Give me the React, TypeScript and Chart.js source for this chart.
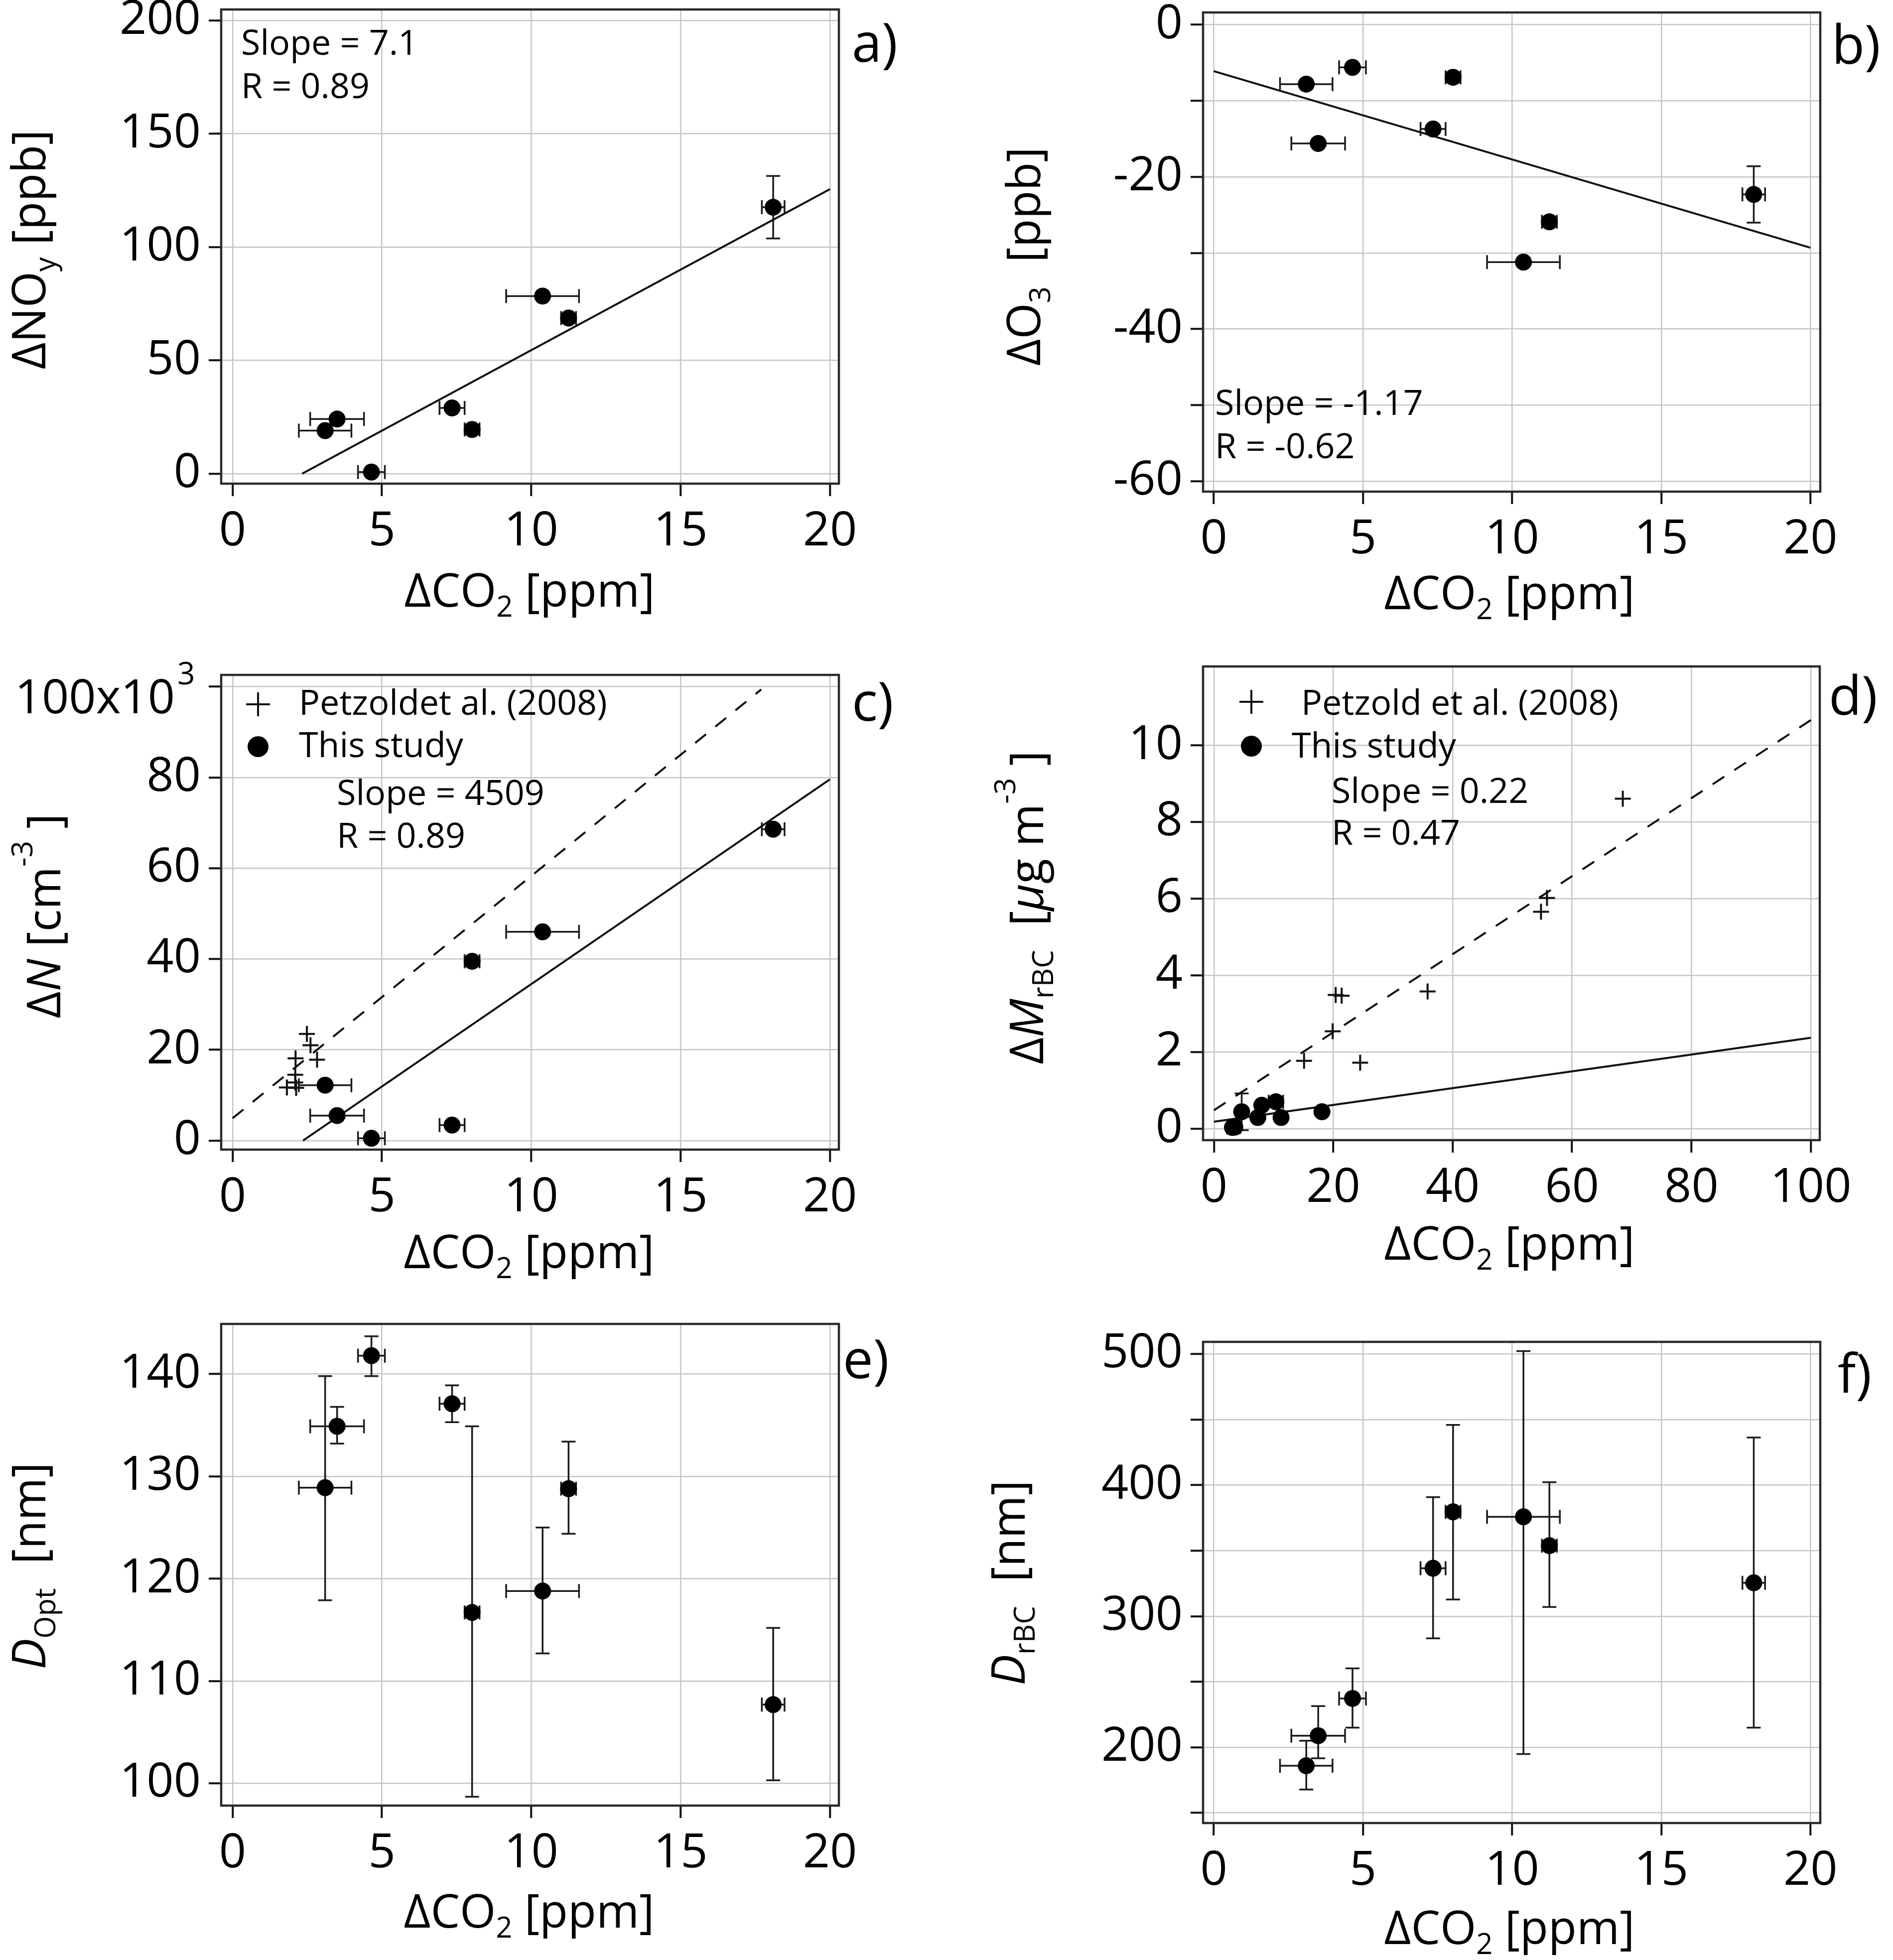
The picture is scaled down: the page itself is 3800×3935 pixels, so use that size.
import { useEffect, useRef } from "react";
import { Chart, registerables } from "chart.js";

Chart.register(...registerables);

const FONT = '"Open Sans", "DejaVu Sans", sans-serif';

// ΔCO2 of the eight plumes, shared by every panel
const co2 = [3.1, 3.5, 4.65, 7.35, 8.02, 10.38, 11.25, 18.1];
const co2Err = [0.88, 0.9, 0.45, 0.42, 0.25, 1.22, 0.25, 0.38];

// a) ΔNOy [ppb]
const noy = [19.0, 24.1, 0.7, 29.0, 19.5, 78.4, 68.7, 117.6];
const noyLo = [null, null, null, null, null, null, null, 103.8];
const noyHi = [null, null, null, null, null, null, null, 131.4];
const noyFitX = [2.33, 20];
const noyFitY = [0, 125.6];

// b) ΔO3 [ppb]
const o3 = [-7.8, -15.6, -5.6, -13.7, -6.9, -31.2, -25.9, -22.3];
const o3Lo = [null, null, null, null, null, null, null, -26.0];
const o3Hi = [null, null, null, null, null, null, null, -18.6];
const o3FitX = [0, 20];
const o3FitY = [-6.1, -29.3];

// c) ΔN [10^3 cm-3]
const nConc = [12.2, 5.5, 0.5, 3.4, 39.5, 46.0, null, 68.6];
const nFitX = [2.36, 20];
const nFitY = [0, 79.6];
const petzoldNX = [2.49, 2.61, 2.83, 2.11, 2.1, 2.1, 1.82, 2.13];
const petzoldNY = [23.5, 21.0, 17.8, 18.1, 14.5, 12.8, 11.7, 11.6];
const petzoldNFitX = [0, 17.7];
const petzoldNFitY = [4.9, 99.4];

// d) ΔM_rBC [µg m-3]
const mbc = [0.03, 0.04, 0.44, 0.29, 0.61, 0.7, 0.29, 0.44];
const mbcLo = [null, null, -0.04, null, null, null, null, null];
const mbcHi = [null, null, 0.92, null, null, null, null, null];
const mbcFitX = [0, 100];
const mbcFitY = [0.18, 2.37];
const petzoldMX = [68.5, 55.8, 54.8, 35.8, 20.4, 21.4, 19.9, 15.1, 24.5];
const petzoldMY = [8.61, 6.02, 5.66, 3.58, 3.49, 3.47, 2.54, 1.77, 1.72];
const petzoldMFitX = [0, 100];
const petzoldMFitY = [0.48, 10.66];

// e) D_Opt [nm]
const dOpt = [128.9, 134.9, 141.8, 137.1, 116.7, 118.8, 128.8, 107.7];
const dOptLo = [117.9, 133.2, 139.8, 135.3, 98.7, 112.7, 124.4, 100.3];
const dOptHi = [139.8, 136.8, 143.7, 138.9, 134.9, 125.0, 133.4, 115.2];

// f) D_rBC [nm]
const dBC = [186.0, 208.9, 237.3, 336.6, 379.6, 375.8, 353.8, 325.5];
const dBCLo = [167.8, 191.7, 215.0, 283.1, 312.7, 194.9, 307.0, 215.0];
const dBCHi = [205.1, 231.5, 260.2, 390.8, 445.9, 502.2, 402.2, 436.3];

// ticks (all drawn) and the ones that carry a label
const co2Ticks = [0, 5, 10, 15, 20];
const co2WideTicks = [0, 20, 40, 60, 80, 100];
const noyTicks = [0, 50, 100, 150, 200];
const o3Ticks = [0, -10, -20, -30, -40, -50, -60];
const o3Labels = [0, -20, -40, -60];
const nTicks = [0, 20, 40, 60, 80, 100];
const nLabels = [0, 20, 40, 60, 80];
const mbcTicks = [0, 2, 4, 6, 8, 10];
const dOptTicks = [100, 110, 120, 130, 140];
const dBCTicks = [150, 200, 250, 300, 350, 400, 450, 500];
const dBCLabels = [200, 300, 400, 500];

type Seg = { t: string; sub?: boolean; sup?: boolean; it?: boolean };
type Txt = {
  segs?: Seg[];
  mark?: "circle" | "cross";
  x: number;
  y: number;
  size: number;
  align?: "left" | "center" | "right";
  rot?: boolean;
};
type Axis = { min: number; max: number; ticks: number[]; labels: number[] };
type Panel = {
  id: string;
  left: number;
  top: number;
  w: number;
  h: number;
  area: [number, number, number, number];
  x: Axis;
  y: Axis;
  datasets: any[];
  texts: Txt[];
};

const pairs = (xs: number[], ys: (number | null)[]) => xs.map((x, i) => ({ x, y: ys[i] }));

const study = (ys: (number | null)[], lo?: (number | null)[], hi?: (number | null)[]) => ({
  label: "This study",
  data: pairs(co2, ys),
  showLine: false,
  pointStyle: "circle",
  pointRadius: 17,
  pointBackgroundColor: "#000",
  pointBorderWidth: 0,
  errX: co2Err,
  errLo: lo,
  errHi: hi,
});

const fit = (xs: number[], ys: number[], dashed = false) => ({
  label: "fit",
  data: pairs(xs, ys),
  showLine: true,
  pointRadius: 0,
  borderColor: "#111",
  borderWidth: 4,
  borderDash: dashed ? [28, 24] : [],
});

const crosses = (xs: number[], ys: number[]) => ({
  label: "Petzold et al. (2008)",
  data: pairs(xs, ys),
  showLine: false,
  pointStyle: "cross",
  pointRadius: 16,
  pointBorderColor: "#111",
  pointBorderWidth: 4,
});

const co2Title: Seg[] = [{ t: "ΔCO" }, { t: "2", sub: true }, { t: " [ppm]" }];
const TS = 93; // axis title size
const AS = 70; // annotation size
const LS = 108; // panel letter size

const panels: Panel[] = [
  {
    id: "a", left: 0, top: 0, w: 1900, h: 1300,
    area: [444, 19, 1684, 971],
    x: { min: -0.38, max: 20.3, ticks: co2Ticks, labels: co2Ticks },
    y: { min: -4.4, max: 204.9, ticks: noyTicks, labels: noyTicks },
    datasets: [study(noy, noyLo, noyHi), fit(noyFitX, noyFitY)],
    texts: [
      { segs: [{ t: "Slope = 7.1" }], x: 484, y: 110, size: AS },
      { segs: [{ t: "R = 0.89" }], x: 484, y: 197, size: AS },
      { segs: [{ t: "a)" }], x: 1710, y: 124, size: LS },
      { segs: co2Title, x: 1063, y: 1218, size: TS, align: "center" },
      { segs: [{ t: "ΔNO" }, { t: "y", sub: true }, { t: " [ppb]" }], x: 91, y: 501, size: TS, align: "center", rot: true },
    ],
  },
  {
    id: "b", left: 1900, top: 0, w: 1900, h: 1300,
    area: [2415, 25, 3654, 987],
    x: { min: -0.36, max: 20.33, ticks: co2Ticks, labels: co2Ticks },
    y: { min: -61.36, max: 1.62, ticks: o3Ticks, labels: o3Labels },
    datasets: [study(o3, o3Lo, o3Hi), fit(o3FitX, o3FitY)],
    texts: [
      { segs: [{ t: "Slope = -1.17" }], x: 2439, y: 833, size: AS },
      { segs: [{ t: "R = -0.62" }], x: 2439, y: 920, size: AS },
      { segs: [{ t: "b)" }], x: 3677, y: 128, size: LS },
      { segs: co2Title, x: 3030, y: 1223, size: TS, align: "center" },
      { segs: [{ t: "ΔO" }, { t: "3", sub: true }, { t: "  [ppb]" }], x: 2088, y: 515, size: TS, align: "center", rot: true },
    ],
  },
  {
    id: "c", left: 0, top: 1300, w: 1900, h: 1320,
    area: [444, 1355, 1684, 2308],
    x: { min: -0.38, max: 20.3, ticks: co2Ticks, labels: co2Ticks },
    y: { min: -2.0, max: 102.6, ticks: nTicks, labels: nLabels },
    datasets: [
      study(nConc),
      crosses(petzoldNX, petzoldNY),
      fit(nFitX, nFitY),
      fit(petzoldNFitX, petzoldNFitY, true),
    ],
    texts: [
      { segs: [{ t: "100x10" }], x: 351, y: 1432, size: 95, align: "right" },
      { segs: [{ t: "3" }], x: 356, y: 1374, size: 62 },
      { mark: "cross", x: 518, y: 1414, size: 24 },
      { segs: [{ t: "Petzoldet al. (2008)" }], x: 600, y: 1435, size: AS },
      { mark: "circle", x: 518, y: 1499, size: 21 },
      { segs: [{ t: "This study" }], x: 600, y: 1520, size: AS },
      { segs: [{ t: "Slope = 4509" }], x: 676, y: 1616, size: AS },
      { segs: [{ t: "R = 0.89" }], x: 676, y: 1702, size: AS },
      { segs: [{ t: "c)" }], x: 1710, y: 1447, size: LS },
      { segs: co2Title, x: 1062, y: 2546, size: TS, align: "center" },
      {
        segs: [{ t: "Δ" }, { t: "N", it: true }, { t: " [cm" }, { t: "-3", sup: true }, { t: " ]" }],
        x: 121, y: 1839, size: TS, align: "center", rot: true,
      },
    ],
  },
  {
    id: "d", left: 1900, top: 1300, w: 1900, h: 1320,
    area: [2415, 1338, 3653, 2289],
    x: { min: -1.82, max: 101.5, ticks: co2WideTicks, labels: co2WideTicks },
    y: { min: -0.3, max: 12.06, ticks: mbcTicks, labels: mbcTicks },
    datasets: [
      study(mbc, mbcLo, mbcHi),
      crosses(petzoldMX, petzoldMY),
      fit(mbcFitX, mbcFitY),
      fit(petzoldMFitX, petzoldMFitY, true),
    ],
    texts: [
      { mark: "cross", x: 2512, y: 1409, size: 24 },
      { segs: [{ t: "Petzold et al. (2008)" }], x: 2612, y: 1435, size: AS },
      { mark: "circle", x: 2512, y: 1498, size: 21 },
      { segs: [{ t: "This study" }], x: 2593, y: 1521, size: AS },
      { segs: [{ t: "Slope = 0.22" }], x: 2673, y: 1612, size: AS },
      { segs: [{ t: "R = 0.47" }], x: 2673, y: 1696, size: AS },
      { segs: [{ t: "d)" }], x: 3671, y: 1435, size: LS },
      { segs: co2Title, x: 3030, y: 2529, size: TS, align: "center" },
      {
        segs: [
          { t: "Δ" }, { t: "M", it: true }, { t: "rBC", sub: true }, { t: "  [" },
          { t: "μ", it: true }, { t: "g m" }, { t: "-3", sup: true }, { t: " ]" },
        ],
        x: 2094, y: 1822, size: TS, align: "center", rot: true,
      },
    ],
  },
  {
    id: "e", left: 0, top: 2620, w: 1900, h: 1315,
    area: [444, 2658, 1684, 3625],
    x: { min: -0.38, max: 20.3, ticks: co2Ticks, labels: co2Ticks },
    y: { min: 97.83, max: 144.9, ticks: dOptTicks, labels: dOptTicks },
    datasets: [study(dOpt, dOptLo, dOptHi)],
    texts: [
      { segs: [{ t: "e)" }], x: 1692, y: 2767, size: LS },
      { segs: co2Title, x: 1062, y: 3870, size: TS, align: "center" },
      { segs: [{ t: "D", it: true }, { t: "Opt", sub: true }, { t: "  [nm]" }], x: 91, y: 3144, size: TS, align: "center", rot: true },
    ],
  },
  {
    id: "f", left: 1900, top: 2620, w: 1900, h: 1315,
    area: [2415, 2694, 3654, 3660],
    x: { min: -0.36, max: 20.33, ticks: co2Ticks, labels: co2Ticks },
    y: { min: 142.3, max: 509.2, ticks: dBCTicks, labels: dBCLabels },
    datasets: [study(dBC, dBCLo, dBCHi)],
    texts: [
      { segs: [{ t: "f)" }], x: 3689, y: 2796, size: LS },
      { segs: co2Title, x: 3030, y: 3903, size: TS, align: "center" },
      { segs: [{ t: "D", it: true }, { t: "rBC", sub: true }, { t: "  [nm]" }], x: 2057, y: 3178, size: TS, align: "center", rot: true },
    ],
  },
];

function drawItem(ctx: CanvasRenderingContext2D, item: Txt, ox: number, oy: number) {
  const x = item.x - ox;
  const y = item.y - oy;
  if (item.mark) {
    ctx.save();
    ctx.fillStyle = "#000";
    ctx.strokeStyle = "#111";
    ctx.lineWidth = 4;
    if (item.mark === "circle") {
      ctx.beginPath();
      ctx.arc(x, y, item.size, 0, Math.PI * 2);
      ctx.fill();
    } else {
      ctx.beginPath();
      ctx.moveTo(x - item.size, y);
      ctx.lineTo(x + item.size, y);
      ctx.moveTo(x, y - item.size);
      ctx.lineTo(x, y + item.size);
      ctx.stroke();
    }
    ctx.restore();
    return;
  }
  const size = item.size;
  const segs = item.segs || [];
  const fontFor = (s: Seg) =>
    `${s.it ? "italic " : ""}${s.sub || s.sup ? Math.round(size * 0.62) : size}px ${FONT}`;
  let total = 0;
  const widths = segs.map((s) => {
    ctx.font = fontFor(s);
    const w = ctx.measureText(s.t).width;
    total += w;
    return w;
  });
  ctx.save();
  ctx.translate(x, y);
  if (item.rot) ctx.rotate(-Math.PI / 2);
  let cx = item.align === "center" ? -total / 2 : item.align === "right" ? -total : 0;
  ctx.fillStyle = "#000";
  ctx.textAlign = "left";
  ctx.textBaseline = "alphabetic";
  segs.forEach((s, i) => {
    ctx.font = fontFor(s);
    const dy = s.sub ? size * 0.22 : s.sup ? -size * 0.6 : 0;
    ctx.fillText(s.t, cx, dy);
    cx += widths[i];
  });
  ctx.restore();
}

const errorBars = {
  id: "errorBars",
  beforeDatasetsDraw(chart: any) {
    const { ctx } = chart;
    const sx = chart.scales.x;
    const sy = chart.scales.y;
    const cap = 14;
    ctx.save();
    ctx.strokeStyle = "#1a1a1a";
    ctx.lineWidth = 3.5;
    ctx.setLineDash([]);
    chart.data.datasets.forEach((ds: any) => {
      if (!ds.errX && !ds.errLo) return;
      ds.data.forEach((d: any, i: number) => {
        if (d.y == null) return;
        const px = sx.getPixelForValue(d.x);
        const py = sy.getPixelForValue(d.y);
        ctx.beginPath();
        if (ds.errX) {
          const x0 = sx.getPixelForValue(d.x - ds.errX[i]);
          const x1 = sx.getPixelForValue(d.x + ds.errX[i]);
          ctx.moveTo(x0, py);
          ctx.lineTo(x1, py);
          ctx.moveTo(x0, py - cap);
          ctx.lineTo(x0, py + cap);
          ctx.moveTo(x1, py - cap);
          ctx.lineTo(x1, py + cap);
        }
        if (ds.errLo && ds.errLo[i] != null) {
          const y0 = sy.getPixelForValue(ds.errLo[i]);
          const y1 = sy.getPixelForValue(ds.errHi[i]);
          ctx.moveTo(px, y0);
          ctx.lineTo(px, y1);
          ctx.moveTo(px - cap, y0);
          ctx.lineTo(px + cap, y0);
          ctx.moveTo(px - cap, y1);
          ctx.lineTo(px + cap, y1);
        }
        ctx.stroke();
      });
    });
    ctx.restore();
  },
};

function scaleOptions(dir: "x" | "y", ax: Axis, fixed: number) {
  return {
    type: "linear",
    position: dir === "x" ? "bottom" : "left",
    min: ax.min,
    max: ax.max,
    afterBuildTicks: (s: any) => {
      s.ticks = ax.ticks.map((value) => ({ value }));
    },
    afterFit: (s: any) => {
      if (dir === "x") s.height = fixed;
      else s.width = fixed;
      s.paddingLeft = 0;
      s.paddingRight = 0;
      s.paddingTop = 0;
      s.paddingBottom = 0;
    },
    ticks: {
      autoSkip: false,
      maxRotation: 0,
      minRotation: 0,
      padding: dir === "x" ? 15 : 16,
      color: "#000",
      font: { family: FONT, size: 95 },
      callback: (v: number) => (ax.labels.includes(v) ? String(v) : ""),
    },
    grid: {
      color: "#c6c6c6",
      lineWidth: 2.5,
      borderDash: [2.5, 4.5],
      drawTicks: true,
      tickLength: 25,
      tickWidth: 4,
      tickColor: "#111",
      tickBorderDash: [],
    },
    border: { display: false },
  };
}

function PanelChart({ p }: { p: Panel }) {
  const ref = useRef<HTMLCanvasElement>(null);

  useEffect(() => {
    if (!ref.current) return;
    const [l, t, r, b] = p.area;

    const frame = {
      id: "frameAndText",
      afterDraw(chart: any) {
        const { ctx, chartArea } = chart;
        ctx.save();
        ctx.strokeStyle = "#2a2a2a";
        ctx.lineWidth = 4.5;
        ctx.setLineDash([]);
        ctx.strokeRect(chartArea.left, chartArea.top, chartArea.right - chartArea.left, chartArea.bottom - chartArea.top);
        ctx.restore();
        p.texts.forEach((item) => drawItem(ctx, item, p.left, p.top));
      },
    };

    const chart = new Chart(ref.current, {
      type: "scatter",
      data: { datasets: p.datasets },
      options: {
        animation: false,
        responsive: false,
        maintainAspectRatio: false,
        devicePixelRatio: 1,
        events: [],
        layout: {
          padding: { left: 0, top: t - p.top, right: p.left + p.w - r, bottom: 0 },
        },
        scales: {
          x: scaleOptions("x", p.x, p.top + p.h - b),
          y: scaleOptions("y", p.y, l - p.left),
        },
        plugins: {
          legend: { display: false },
          tooltip: { enabled: false },
        },
      },
      plugins: [errorBars, frame],
    } as any);

    return () => chart.destroy();
  }, [p]);

  return (
    <canvas
      ref={ref}
      width={p.w}
      height={p.h}
      style={{ position: "absolute", left: p.left, top: p.top, width: p.w, height: p.h }}
    />
  );
}

export default function App() {
  return (
    <div style={{ position: "absolute", left: 0, top: 0, width: 3800, height: 3935, background: "#fff" }}>
      {panels.map((p) => (
        <PanelChart key={p.id} p={p} />
      ))}
    </div>
  );
}
